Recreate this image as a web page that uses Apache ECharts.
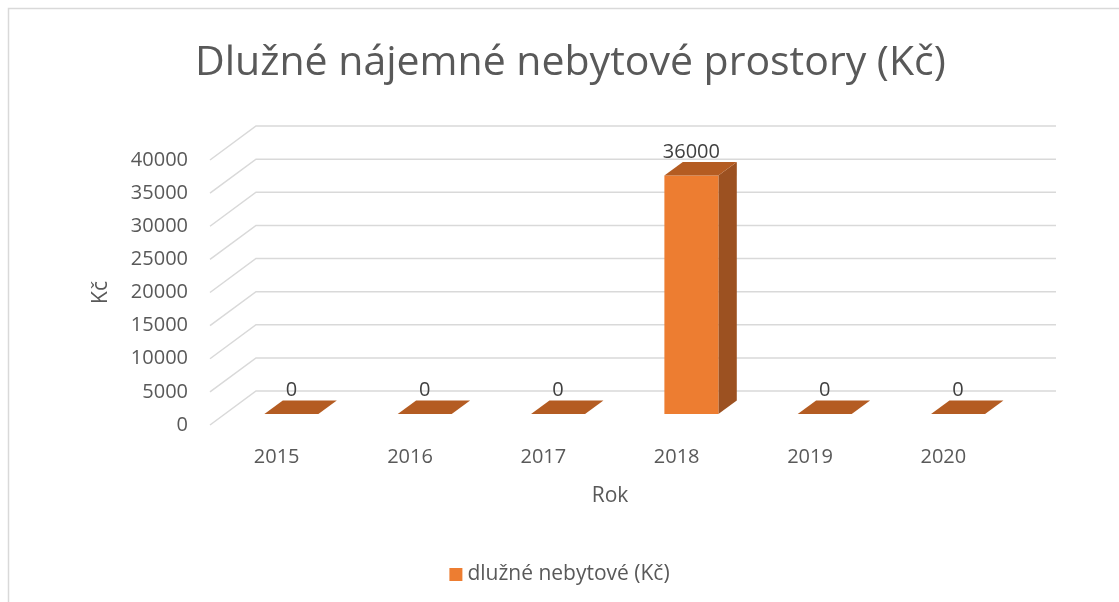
<!DOCTYPE html>
<html lang="cs">
<head>
    <meta charset="UTF-8">
    <title>Dlužné nájemné nebytové prostory</title>
    <script src="https://cdn.jsdelivr.net/npm/echarts@6/dist/echarts.min.js"></script>
    <style>
        html, body { margin: 0; padding: 0; background: #fff; }
        #chart { width: 1119px; height: 602px; }
    </style>
</head>
<body>
<div id="chart"></div>
<script>
// data
var roky = ['2015', '2016', '2017', '2018', '2019', '2020'];
var dluzne = [0, 0, 0, 36000, 0, 0];
var yTicks = [0, 5000, 10000, 15000, 20000, 25000, 30000, 35000, 40000];

// hloubka 3D pohledu (px)
var DX = 46, DY = 34;
var F0 = 0.32, FD = 0.4;
var font = '"Open Sans", "Liberation Sans", sans-serif';

var chart = echarts.init(document.getElementById('chart'));

function renderGrid(params, api) {
    var cs = params.coordSys;
    var y = api.coord([0, api.value(1)])[1];
    return {
        type: 'polyline',
        shape: { points: [[cs.x, y], [cs.x + DX, y - DY], [cs.x + cs.width + DX, y - DY]] },
        style: { stroke: '#d9d9d9', lineWidth: 1.5, fill: null }
    };
}

function renderBar(params, api) {
    var i = api.value(0), v = api.value(1);
    var base = api.coord([i, 0]);
    var top = api.coord([i, v]);
    var band = api.size([1, 0])[0];
    var w = band * 0.405;
    var fx = base[0] - w / 2 + DX * F0;
    var fy0 = base[1] - DY * F0;
    var fy1 = top[1] - DY * F0;
    var ddx = DX * FD, ddy = DY * FD;
    return {
        type: 'group',
        children: [
            {
                type: 'polygon',
                shape: { points: [[fx + w, fy1], [fx + w + ddx, fy1 - ddy], [fx + w + ddx, fy0 - ddy], [fx + w, fy0]] },
                style: { fill: '#9c5121' }
            },
            {
                type: 'rect',
                shape: { x: fx, y: fy1, width: w, height: fy0 - fy1 },
                style: { fill: '#ed7d31' }
            },
            {
                type: 'polygon',
                shape: { points: [[fx, fy1], [fx + w, fy1], [fx + w + ddx, fy1 - ddy], [fx + ddx, fy1 - ddy]] },
                style: { fill: '#b45c22' }
            },
            {
                type: 'text',
                style: {
                    x: fx + w / 2, y: fy1 - ddy - 10,
                    text: String(v),
                    align: 'center', verticalAlign: 'middle',
                    font: '20px ' + font, fill: '#404040'
                }
            }
        ]
    };
}

chart.setOption({
    backgroundColor: '#ffffff',
    animation: false,
    title: {
        text: 'Dlužné nájemné nebytové prostory (Kč)',
        left: 190,
        top: 38,
        textStyle: { color: '#595959', fontFamily: font, fontWeight: 'normal', fontSize: 41 }
    },
    legend: {
        data: ['dlužné nebytové (Kč)'],
        left: 'center',
        top: 559,
        icon: 'rect',
        itemWidth: 13,
        itemHeight: 13,
        itemGap: 6,
        textStyle: { color: '#595959', fontFamily: font, fontSize: 21 }
    },
    graphic: [{
        type: 'rect',
        shape: { x: 8.5, y: 8.5, width: 1200, height: 700 },
        style: { fill: null, stroke: '#d9d9d9', lineWidth: 1.5 },
        silent: true
    }],
    grid: { left: 210, right: 109, top: 160, bottom: 177 },
    xAxis: {
        type: 'category',
        data: roky,
        name: 'Rok',
        nameLocation: 'middle',
        nameGap: 61,
        nameTextStyle: { color: '#595959', fontFamily: font, fontSize: 21 },
        axisLine: { show: false },
        axisTick: { show: false },
        axisLabel: { color: '#595959', fontFamily: font, fontSize: 20, margin: 22 }
    },
    yAxis: {
        type: 'value',
        min: 0,
        max: 40000,
        interval: 5000,
        name: 'Kč',
        nameLocation: 'middle',
        nameGap: 98,
        nameTextStyle: { color: '#595959', fontFamily: font, fontSize: 21 },
        splitLine: { show: false },
        axisLine: { show: false },
        axisTick: { show: false },
        axisLabel: {
            color: '#595959', fontFamily: font, fontSize: 20, margin: 22,
            formatter: function (v) { return String(v); }
        }
    },
    series: [
        {
            type: 'custom',
            name: 'mřížka',
            z: 1,
            silent: true,
            renderItem: renderGrid,
            encode: { x: 0, y: 1 },
            data: yTicks.map(function (v) { return [0, v]; })
        },
        {
            type: 'custom',
            name: 'dlužné nebytové (Kč)',
            z: 2,
            itemStyle: { color: '#ed7d31' },
            renderItem: renderBar,
            encode: { x: 0, y: 1 },
            data: dluzne.map(function (v, i) { return [i, v]; })
        }
    ]
});
</script>
</body>
</html>
